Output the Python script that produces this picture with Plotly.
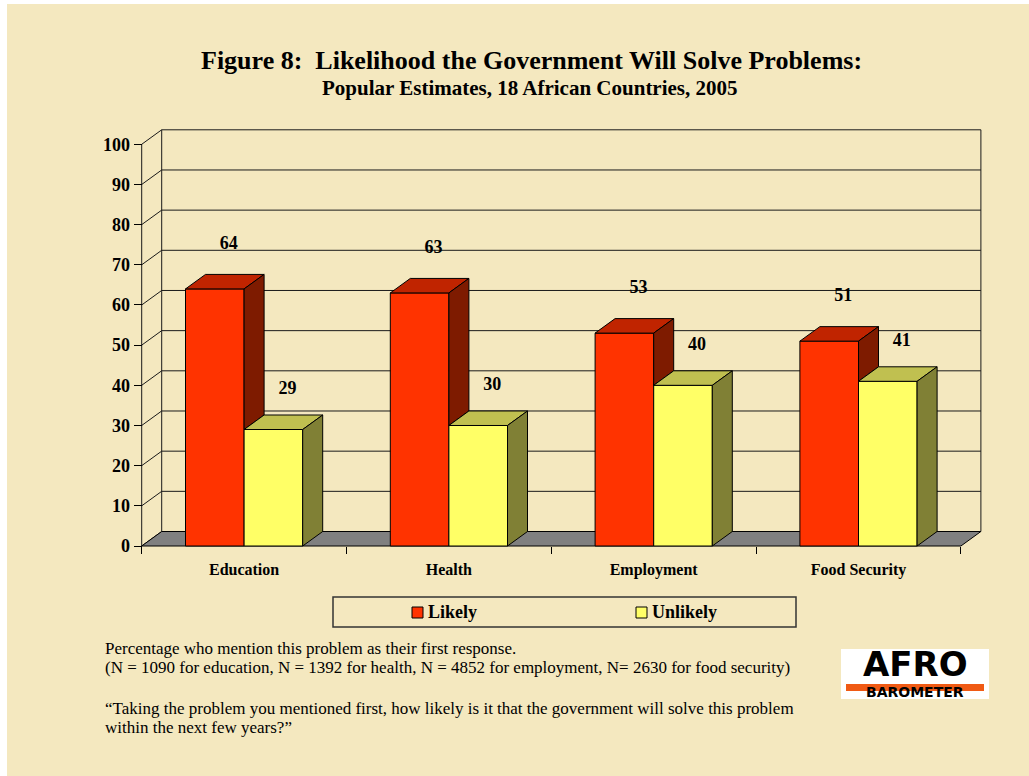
import plotly.graph_objects as go

# ---------------- data ----------------
categories = ["Education", "Health", "Employment", "Food Security"]
likely = [64, 63, 53, 51]
unlikely = [29, 30, 40, 41]
series_names = ["Likely", "Unlikely"]
y_ticks = [0, 10, 20, 30, 40, 50, 60, 70, 80, 90, 100]

title = "Figure 8:  Likelihood the Government Will Solve Problems:"
subtitle = "Popular Estimates, 18 African Countries, 2005"
notes = [
    "Percentage who mention this problem as their first response.",
    "(N = 1090 for education, N = 1392 for health, N = 4852 for employment, N= 2630 for food security)",
    "\u201cTaking the problem you mentioned first, how likely is it that the government will solve this problem",
    "within the next few years?\u201d",
]

# ---------------- styling / geometry ----------------
W, H = 1029, 776
CREAM = "#F4E8BF"
FONT = "Liberation Serif"
LOGO_FONT = "DejaVu Sans"
RED = dict(front="#FF3300", top="#C02400", side="#7E1B00")
YEL = dict(front="#FFFF66", top="#C0C050", side="#808035")

X_LEFT_PX = 141.7      # pixel x of the front-left corner of the plot
CAT_PX = 204.8         # pixels per category
Y0_PX = 546.0          # pixel y of value 0 on the front plane
UNIT_PX = 4.017        # pixels per value unit
DX = 20.0 / CAT_PX     # depth offset (x, data units)
DY = 14.5 / UNIT_PX    # depth offset (y, data units)
BW = 58.6 / CAT_PX     # bar width in category units

x_range = [(0 - X_LEFT_PX) / CAT_PX - 0.5, (W - X_LEFT_PX) / CAT_PX - 0.5]
y_range = [(Y0_PX - H) / UNIT_PX, Y0_PX / UNIT_PX]
XA, XB = -0.5, len(categories) - 0.5
YMAX = y_ticks[-1]


def px(x):
    return x / W


def py(y):
    return 1 - y / H


fig = go.Figure()

# ---------------- bars (front faces) ----------------
xs = list(range(len(categories)))
for vals, name, col, off in [(likely, series_names[0], RED, -BW), (unlikely, series_names[1], YEL, 0.0)]:
    fig.add_trace(go.Bar(
        x=xs, y=vals, width=BW, offset=off, name=name,
        marker=dict(color=col["front"], line=dict(color="black", width=1)),
        showlegend=False, hoverinfo="skip"))


def poly_trace(polys, color, name):
    px_, py_ = [], []
    for p in polys:
        for (a, b) in p:
            px_.append(a)
            py_.append(b)
        px_.append(p[0][0])
        py_.append(p[0][1])
        px_.append(None)
        py_.append(None)
    return go.Scatter(x=px_, y=py_, mode="lines", fill="toself", fillcolor=color,
                      line=dict(color="black", width=1), name=name,
                      showlegend=False, hoverinfo="skip")


# tops & visible sides of the 3-D columns
red_tops, red_sides, yel_tops, yel_sides = [], [], [], []
for i, (hl, hu) in enumerate(zip(likely, unlikely)):
    x0 = i - BW
    x1 = i
    red_tops.append([(x0, hl), (x1, hl), (x1 + DX, hl + DY), (x0 + DX, hl + DY)])
    low = min(hu, hl)
    red_sides.append([(x1, low), (x1 + DX, low + DY), (x1 + DX, hl + DY), (x1, hl)])
    y0_, y1_ = i, i + BW
    yel_tops.append([(y0_, hu), (y1_, hu), (y1_ + DX, hu + DY), (y0_ + DX, hu + DY)])
    yel_sides.append([(y1_, 0), (y1_ + DX, DY), (y1_ + DX, hu + DY), (y1_, hu)])

fig.add_trace(poly_trace(red_tops, RED["top"], "Likely top"))
fig.add_trace(poly_trace(red_sides, RED["side"], "Likely side"))
fig.add_trace(poly_trace(yel_tops, YEL["top"], "Unlikely top"))
fig.add_trace(poly_trace(yel_sides, YEL["side"], "Unlikely side"))

# value labels
lab_x, lab_y, lab_t = [], [], []
for i, (hl, hu) in enumerate(zip(likely, unlikely)):
    lab_x += [i - BW / 2 + DX * 0.7, i + BW / 2 + DX * 0.7]
    lab_y += [hl + 11, hu + 10]
    lab_t += [str(hl), str(hu)]
fig.add_trace(go.Scatter(x=lab_x, y=lab_y, text=lab_t, mode="text",
                         textfont=dict(family=FONT, size=18, color="black", weight="bold"),
                         textposition="middle center", cliponaxis=False,
                         showlegend=False, hoverinfo="skip"))

# ---------------- walls, floor, gridlines (shapes) ----------------
shapes = []
shapes.append(dict(type="rect", xref="paper", yref="paper", x0=px(7), x1=1, y0=0, y1=py(4),
                   fillcolor=CREAM, line=dict(width=0), layer="below"))
GRID = dict(color="#1a1a1a", width=1)
for v in y_ticks:
    if v > 0:
        shapes.append(dict(type="line", x0=XA + DX, x1=XB + DX, y0=v + DY, y1=v + DY,
                           line=GRID, layer="below"))
    shapes.append(dict(type="line", x0=XA, x1=XA + DX, y0=v, y1=v + DY, line=GRID, layer="below"))
shapes.append(dict(type="line", x0=XA, x1=XA, y0=0, y1=YMAX, line=GRID, layer="below"))
shapes.append(dict(type="line", x0=XA + DX, x1=XA + DX, y0=DY, y1=YMAX + DY, line=GRID, layer="below"))
shapes.append(dict(type="line", x0=XB + DX, x1=XB + DX, y0=DY, y1=YMAX + DY, line=GRID, layer="below"))
shapes.append(dict(type="path",
                   path=f"M {XA},0 L {XB},0 L {XB + DX},{DY} L {XA + DX},{DY} Z",
                   fillcolor="#808080", line=dict(color="black", width=1), layer="below"))

# ---------------- legend (drawn) ----------------
shapes.append(dict(type="rect", xref="paper", yref="paper", x0=px(333), x1=px(796), y0=py(627), y1=py(597),
                   line=dict(color="#333333", width=1.5), fillcolor="rgba(0,0,0,0)"))
shapes.append(dict(type="rect", xref="paper", yref="paper", x0=px(412), x1=px(423), y0=py(618), y1=py(607),
                   line=dict(color="black", width=1), fillcolor=RED["front"]))
shapes.append(dict(type="rect", xref="paper", yref="paper", x0=px(636), x1=px(647), y0=py(618), y1=py(607),
                   line=dict(color="black", width=1), fillcolor=YEL["front"]))

# ---------------- logo ----------------
shapes.append(dict(type="rect", xref="paper", yref="paper", x0=px(841), x1=px(989), y0=py(699), y1=py(649),
                   line=dict(width=0), fillcolor="white"))
shapes.append(dict(type="rect", xref="paper", yref="paper", x0=px(846), x1=px(984), y0=py(691), y1=py(684),
                   line=dict(width=0), fillcolor="#F05A14"))

annotations = [
    dict(text=f"<b>{title}</b>", x=px(531), y=py(61), xref="paper", yref="paper",
         showarrow=False, xanchor="center", yanchor="middle",
         font=dict(family=FONT, size=26, color="black")),
    dict(text=f"<b>{subtitle}</b>", x=px(530), y=py(88), xref="paper", yref="paper",
         showarrow=False, xanchor="center", yanchor="middle",
         font=dict(family=FONT, size=21, color="black")),
    dict(text=f"<b>{series_names[0]}</b>", x=px(426), y=py(612), xref="paper", yref="paper",
         showarrow=False, xanchor="left", yanchor="middle",
         font=dict(family=FONT, size=18, color="black")),
    dict(text=f"<b>{series_names[1]}</b>", x=px(650), y=py(612), xref="paper", yref="paper",
         showarrow=False, xanchor="left", yanchor="middle",
         font=dict(family=FONT, size=18, color="black")),
    dict(text="<b>AFRO</b>", x=px(915), y=py(664), xref="paper", yref="paper",
         showarrow=False, xanchor="center", yanchor="middle",
         font=dict(family=LOGO_FONT, size=34, color="black")),
    dict(text="<b>BAROMETER</b>", x=px(915), y=py(692), xref="paper", yref="paper",
         showarrow=False, xanchor="center", yanchor="middle",
         font=dict(family=LOGO_FONT, size=14, color="black")),
]
for txt, yy in zip(notes, [648, 667, 708, 727]):
    annotations.append(dict(text=txt, x=px(103), y=py(yy), xref="paper", yref="paper",
                            showarrow=False, xanchor="left", yanchor="middle",
                            font=dict(family=FONT, size=17, color="black")))

fig.update_layout(
    width=W, height=H, margin=dict(l=0, r=0, t=0, b=0),
    paper_bgcolor="white", plot_bgcolor="rgba(0,0,0,0)",
    barmode="overlay", showlegend=False,
    shapes=shapes, annotations=annotations,
    xaxis=dict(range=x_range, domain=[0, 1], anchor="free", position=1 - Y0_PX / H,
               tickvals=xs, ticktext=[f"<b>{c}</b>" for c in categories], ticks="",
               showgrid=False, zeroline=False, showline=False, ticklabelstandoff=12,
               tickfont=dict(family=FONT, size=16, color="black"),
               minor=dict(tickmode="array", tickvals=[XA + k for k in range(len(categories) + 1)],
                          ticks="outside", ticklen=7, tickcolor="black", tickwidth=1)),
    yaxis=dict(range=y_range, domain=[0, 1], anchor="free", position=X_LEFT_PX / W,
               tickvals=y_ticks, ticktext=[f"<b>{v}</b>" for v in y_ticks],
               ticks="outside", ticklen=8, tickcolor="black", tickwidth=1,
               showgrid=False, zeroline=False, showline=False,
               tickfont=dict(family=FONT, size=18, color="black")),
)

fig.write_html("out.html")
